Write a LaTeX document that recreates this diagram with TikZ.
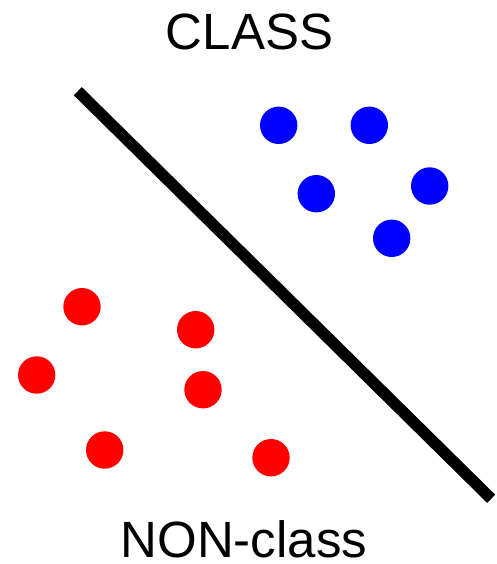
\documentclass[tikz,border=0pt]{standalone}
\usepackage{fontspec}
\setmainfont{Liberation Sans}
\usepackage{xcolor}

\begin{document}
\begin{tikzpicture}[
  x=1pt, y=-1pt,
  label/.style={anchor=base, inner sep=0pt, text depth=0pt, font=\fontsize{51}{61}\selectfont},
  classdot/.style={fill=blue},
  nondot/.style={fill=red},
  boundary/.style={line width=11.5pt, line cap=butt}
]
\useasboundingbox (0,0) rectangle (496,564);

\node[label] (cls) at (249.5,49.3) {CLASS};
\node[label] (noncls) at (243.9,557.3) {NON-class};

\coordinate (bstart) at (77.8,91.2);
\coordinate (bend) at (491.2,498.8);
\draw[boundary] (bstart) -- (bend);

% class points
\fill[classdot] (278.7,125.3) circle (18.7);
\fill[classdot] (369.3,125.3) circle (18.7);
\fill[classdot] (316.3,193.7) circle (18.7);
\fill[classdot] (429.7,186.0) circle (18.7);
\fill[classdot] (391.7,238.3) circle (18.7);

% non-class points
\fill[nondot] (82.0,306.7) circle (18.7);
\fill[nondot] (195.7,329.7) circle (18.7);
\fill[nondot] (36.7,375.0) circle (18.7);
\fill[nondot] (203.0,389.7) circle (18.7);
\fill[nondot] (104.7,450.0) circle (18.7);
\fill[nondot] (271.0,457.7) circle (18.7);

\end{tikzpicture}
\end{document}
